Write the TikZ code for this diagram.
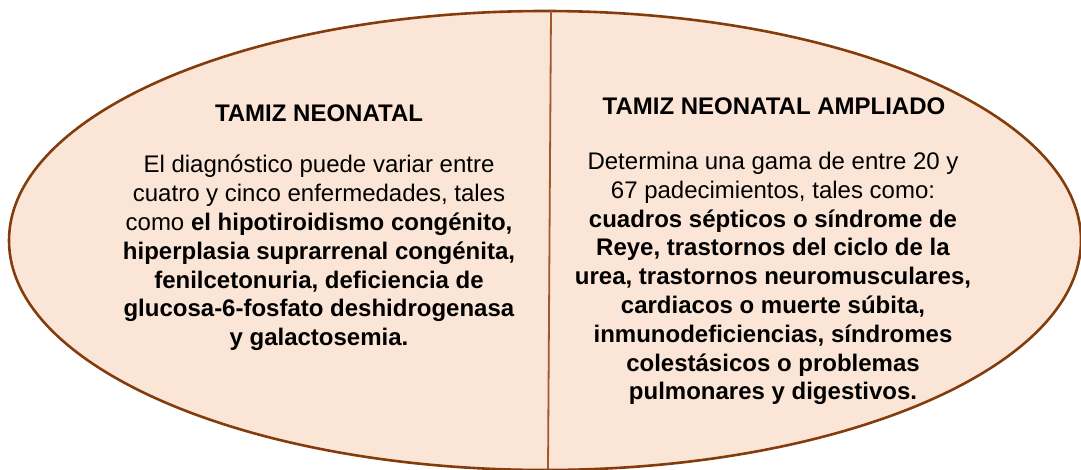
\documentclass[tikz,border=0pt]{standalone}
\usepackage{fontspec}
\setmainfont{Liberation Sans}
\definecolor{fillc}{HTML}{FBE5D6}
\definecolor{edgec}{HTML}{843C0C}
\definecolor{linec}{HTML}{A0582F}
\begin{document}
\begin{tikzpicture}[x=1pt,y=-1pt,
  titlestyle/.style={inner sep=0pt, font=\fontsize{24}{28.8}\selectfont\bfseries},
  bodystyle/.style={inner sep=0pt, align=center, anchor=north, font=\fontsize{24}{28.8}\selectfont}]
\useasboundingbox (0,0) rectangle (1081,469);
\clip (0,0) rectangle (1081,469);
\draw[fill=fillc, draw=edgec, line width=2.6pt] (545,240.5) ellipse [x radius=536, y radius=229.5];
\coordinate (top) at (551,11);
\coordinate (bot) at (548,469);
\draw[linec, line width=1.8pt] (top) -- (bot);
\node[titlestyle] (t1) at (319,113) {TAMIZ NEONATAL};
\node[bodystyle] (b1) at (319,155) {El diagnóstico puede variar entre\\
cuatro y cinco enfermedades, tales\\
como \textbf{el hipotiroidismo congénito,}\\
\textbf{hiperplasia suprarrenal congénita,}\\
\textbf{fenilcetonuria, deficiencia de}\\
\textbf{glucosa-6-fosfato deshidrogenasa}\\
\textbf{y galactosemia.}};
\node[titlestyle] (t2) at (774,106) {TAMIZ NEONATAL AMPLIADO};
\node[bodystyle] (b2) at (773,152) {Determina una gama de entre 20 y\\
67 padecimientos, tales como:\\
\textbf{cuadros sépticos o síndrome de}\\
\textbf{Reye, trastornos del ciclo de la}\\
\textbf{urea, trastornos neuromusculares,}\\
\textbf{cardiacos o muerte súbita,}\\
\textbf{inmunodeficiencias, síndromes}\\
\textbf{colestásicos o problemas}\\
\textbf{pulmonares y digestivos.}};
\end{tikzpicture}
\end{document}
